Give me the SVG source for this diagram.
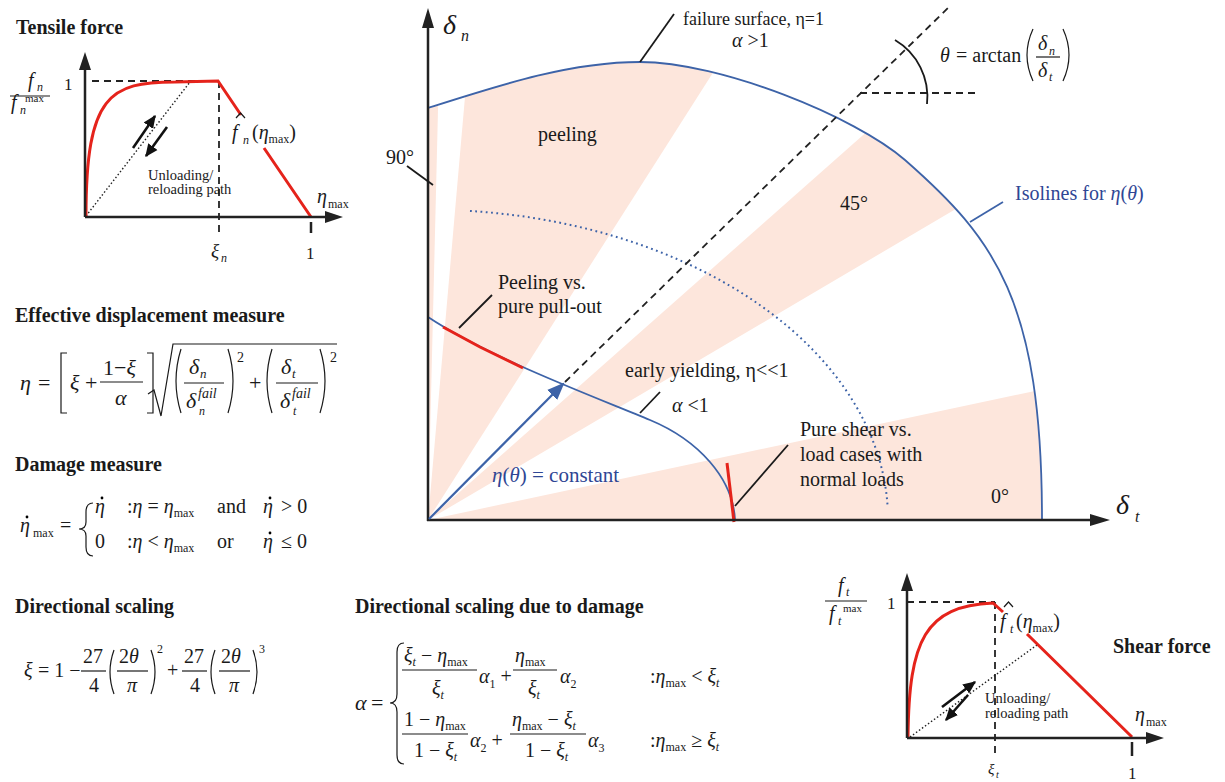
<svg xmlns="http://www.w3.org/2000/svg" width="1225" height="782" viewBox="0 0 1225 782" font-family="'Liberation Serif', 'DejaVu Serif', serif">
<style>
text{font-family:'Liberation Serif','DejaVu Serif',serif;fill:#1a1a1a}
.t{font-size:20px;font-weight:bold}
.i{font-style:italic}
.ax{stroke:#222;stroke-width:2.5;fill:none}
.ah{fill:#222}
.dash{stroke:#222;stroke-width:1.8;stroke-dasharray:7 5;fill:none}
.red{stroke:#e5231b;stroke-width:3;fill:none}
.dot{stroke:#222;stroke-width:1.4;stroke-dasharray:1.5 2.2;fill:none}
.ptr{stroke:#1a1a1a;stroke-width:1.8;fill:none}
.pink{fill:#fde6dc}
.blue{stroke:#3d63a8;stroke-width:1.8;fill:none}
.bdot{stroke:#3d63a8;stroke-width:2;stroke-dasharray:1.8 3.5;fill:none}
.m{stroke:#1a1a1a;stroke-width:1.2;fill:none}
.bt{fill:#2f4694}
.ua{stroke:#111;stroke-width:2.6;fill:none}
</style>
<defs>
<clipPath id="cl"><path d="M428,520 L428,108 C500,85 570,62 640,62 C720,62 855,116.5 905,160 C995,239 1042,300 1042,520 Z"/></clipPath>
<marker id="ba" markerWidth="8" markerHeight="8" refX="7" refY="4" orient="auto" markerUnits="strokeWidth"><path d="M0,0.8 L8,4 L0,7.2 Z" fill="#3d63a8"/></marker>
<marker id="ka" markerWidth="5" markerHeight="5" refX="4.5" refY="2.5" orient="auto" markerUnits="strokeWidth"><path d="M0,0.3 L5,2.5 L0,4.7 Z" fill="#111"/></marker>
</defs>

<!-- ===== Tensile force panel ===== -->
<g id="tensile">
<text class="t" x="16" y="34">Tensile force</text>
<path class="dot" d="M86,216 L190,82"/>
<path class="dash" d="M92,81 H219 M219,81 V232"/>
<path class="red" d="M86,216 C86,95 110,82 175,82 L218,81 L241,115 M264,148 L311,217"/>
<path class="ax" d="M85,217 V68 M85,217 H327"/>
<path class="ah" d="M85,52 L79,70 L91,70 Z M343,217 L325,211 L325,223 Z"/>
<path class="ax" d="M311,222 V233" stroke-width="1.5"/>
<path class="ua" marker-end="url(#ka)" d="M133,148 L155,116"/>
<path class="ua" marker-end="url(#ka)" d="M167,127 L146,156"/>
<text x="148" y="180" font-size="14.5">Unloading/</text>
<text x="148" y="194" font-size="14.5">reloading path</text>
<text class="i" x="28" y="87" font-size="20">f</text><text class="i" x="37" y="91" font-size="12">n</text>
<path class="m" d="M10,96 H50"/>
<text class="i" x="11" y="109" font-size="20">f</text><text class="i" x="20" y="114" font-size="12">n</text><text x="25" y="102" font-size="11">max</text>
<text x="64" y="90" font-size="17">1</text>
<text class="i" x="232" y="139" font-size="20">f</text><path class="m" d="M236,118 L240.5,113 L245,118"/>
<text x="243" y="144" font-size="12" class="i">n</text>
<text x="252" y="139" font-size="20">(<tspan class="i">η</tspan><tspan font-size="12" dy="4">max</tspan><tspan dy="-4">)</tspan></text>
<text class="i" x="317" y="203" font-size="20">η</text><text x="328" y="208" font-size="12">max</text>
<text class="i" x="211" y="257" font-size="19">ξ</text><text class="i" x="221" y="262" font-size="12">n</text>
<text x="306" y="259" font-size="17">1</text>
</g>

<!-- ===== Effective displacement measure ===== -->
<g id="eq-eta">
<text class="t" x="15" y="322">Effective displacement measure</text>
<text class="i" x="20" y="390" font-size="22">η</text>
<text x="38" y="390" font-size="22">=</text>
<path class="m" d="M67,353 H61 V413 H67 M147,353 H153 V413 H147"/>
<text class="i" x="70" y="390" font-size="22">ξ</text>
<text x="85" y="390" font-size="22">+</text>
<text x="103" y="375" font-size="22">1−<tspan class="i">ξ</tspan></text>
<path class="m" d="M100,382 H143"/>
<text class="i" x="115" y="405" font-size="22">α</text>
<path class="m" d="M148,394 L154,390 L161,416 L173,344 H337"/>
<path class="m" d="M181,349 Q171,381 181,413 M228,349 Q238,381 228,413 M272,349 Q262,381 272,413 M320,349 Q330,381 320,413"/>
<text class="i" x="189" y="374" font-size="22">δ</text><text class="i" x="200" y="378" font-size="13">n</text>
<path class="m" d="M184,383 H224"/>
<text class="i" x="186" y="408" font-size="22">δ</text><text class="i" x="198" y="398" font-size="14">fail</text><text class="i" x="199" y="415" font-size="12">n</text>
<text x="237" y="362" font-size="14">2</text>
<text x="249" y="390" font-size="22">+</text>
<text class="i" x="281" y="374" font-size="22">δ</text><text class="i" x="292" y="378" font-size="13">t</text>
<path class="m" d="M276,383 H318"/>
<text class="i" x="280" y="408" font-size="22">δ</text><text class="i" x="292" y="398" font-size="14">fail</text><text class="i" x="293" y="415" font-size="12">t</text>
<text x="330" y="362" font-size="14">2</text>
</g>

<!-- ===== Damage measure ===== -->
<g id="eq-damage">
<text class="t" x="15" y="471">Damage measure</text>
<text class="i" x="20" y="532" font-size="20">η</text><circle cx="27" cy="517" r="1.4"/>
<text x="33" y="537" font-size="12">max</text>
<text x="60" y="532" font-size="20">=</text>
<path class="m" d="M93,503 Q86,503 86,512 L86,522 Q86,529 79,529 Q86,529 86,536 L86,547 Q86,556 93,556"/>
<text class="i" x="95" y="513" font-size="20">η</text><circle cx="102" cy="498" r="1.4"/>
<text x="127" y="513" font-size="20">:<tspan class="i">η</tspan> = <tspan class="i">η</tspan><tspan font-size="12" dy="4">max</tspan></text>
<text x="217" y="513" font-size="20">and</text>
<text class="i" x="263" y="513" font-size="20">η</text><circle cx="270" cy="498" r="1.4"/>
<text x="281" y="513" font-size="20">&gt; 0</text>
<text x="95" y="548" font-size="20">0</text>
<text x="127" y="548" font-size="20">:<tspan class="i">η</tspan> &lt; <tspan class="i">η</tspan><tspan font-size="12" dy="4">max</tspan></text>
<text x="217" y="548" font-size="20">or</text>
<text class="i" x="263" y="548" font-size="20">η</text><circle cx="270" cy="533" r="1.4"/>
<text x="281" y="548" font-size="20">≤ 0</text>
</g>

<!-- ===== Directional scaling ===== -->
<g id="eq-xi">
<text class="t" x="15" y="613">Directional scaling</text>
<text class="i" x="24" y="677" font-size="20">ξ</text>
<text x="38" y="677" font-size="20">= 1 −</text>
<text x="83" y="663" font-size="20">27</text><path class="m" d="M81,671 H106"/><text x="89" y="692" font-size="20">4</text>
<path class="m" d="M114,650 Q106,672 114,694 M151,650 Q159,672 151,694"/>
<text x="119" y="663" font-size="20">2<tspan class="i">θ</tspan></text><path class="m" d="M117,671 H148"/><text class="i" x="127" y="692" font-size="20">π</text>
<text x="157" y="653" font-size="12">2</text>
<text x="167" y="677" font-size="20">+</text>
<text x="184" y="663" font-size="20">27</text><path class="m" d="M182,671 H207"/><text x="190" y="692" font-size="20">4</text>
<path class="m" d="M215,650 Q207,672 215,694 M253,650 Q261,672 253,694"/>
<text x="221" y="663" font-size="20">2<tspan class="i">θ</tspan></text><path class="m" d="M219,671 H250"/><text class="i" x="229" y="692" font-size="20">π</text>
<text x="259" y="653" font-size="12">3</text>
</g>

<!-- ===== Directional scaling due to damage ===== -->
<g id="eq-alpha">
<text class="t" x="355" y="613">Directional scaling due to damage</text>
<text class="i" x="355" y="710" font-size="22">α</text><text x="371" y="710" font-size="22">=</text>
<path class="m" d="M404,643 Q397,643 397,652 L397,694 Q397,703 390,703 Q397,703 397,712 L397,755 Q397,764 404,764"/>
<text x="404" y="662" font-size="20"><tspan class="i">ξ</tspan><tspan class="i" font-size="12" dy="4">t</tspan><tspan dy="-4"> − </tspan><tspan class="i">η</tspan><tspan font-size="12" dy="4">max</tspan></text>
<path class="m" d="M402,670 H477"/>
<text x="432" y="695" font-size="20"><tspan class="i">ξ</tspan><tspan class="i" font-size="12" dy="4">t</tspan></text>
<text x="479" y="683" font-size="20"><tspan class="i">α</tspan><tspan font-size="12" dy="5">1</tspan><tspan dy="-5"> +</tspan></text>
<text x="515" y="662" font-size="20"><tspan class="i">η</tspan><tspan font-size="12" dy="4">max</tspan></text>
<path class="m" d="M513,670 H557"/>
<text x="528" y="695" font-size="20"><tspan class="i">ξ</tspan><tspan class="i" font-size="12" dy="4">t</tspan></text>
<text x="560" y="683" font-size="20"><tspan class="i">α</tspan><tspan font-size="12" dy="5">2</tspan></text>
<text x="650" y="683" font-size="20">:<tspan class="i">η</tspan><tspan font-size="12" dy="4">max</tspan><tspan dy="-4"> &lt; </tspan><tspan class="i">ξ</tspan><tspan class="i" font-size="12" dy="4">t</tspan></text>
<text x="404" y="726" font-size="20">1 − <tspan class="i">η</tspan><tspan font-size="12" dy="4">max</tspan></text>
<path class="m" d="M402,734 H468"/>
<text x="414" y="757" font-size="20">1 − <tspan class="i">ξ</tspan><tspan class="i" font-size="12" dy="4">t</tspan></text>
<text x="470" y="747" font-size="20"><tspan class="i">α</tspan><tspan font-size="12" dy="5">2</tspan><tspan dy="-5"> +</tspan></text>
<text x="512" y="726" font-size="20"><tspan class="i">η</tspan><tspan font-size="12" dy="4">max</tspan><tspan dy="-4"> − </tspan><tspan class="i">ξ</tspan><tspan class="i" font-size="12" dy="4">t</tspan></text>
<path class="m" d="M510,734 H586"/>
<text x="525" y="757" font-size="20">1 − <tspan class="i">ξ</tspan><tspan class="i" font-size="12" dy="4">t</tspan></text>
<text x="588" y="747" font-size="20"><tspan class="i">α</tspan><tspan font-size="12" dy="5">3</tspan></text>
<text x="650" y="747" font-size="20">:<tspan class="i">η</tspan><tspan font-size="12" dy="4">max</tspan><tspan dy="-4"> ≥ </tspan><tspan class="i">ξ</tspan><tspan class="i" font-size="12" dy="4">t</tspan></text>
</g>

<!-- ===== Main plot ===== -->
<g id="sectors" clip-path="url(#cl)">
<path class="pink" d="M428,520 L447.5,-280 L428,-280 Z"/>
<path class="pink" d="M428,520 L497.7,-277 L857.8,-154.7 Z"/>
<path class="pink" d="M428,520 L1027,-10 L1117,114 Z"/>
<path class="pink" d="M428,520 L1210.5,353.7 L1228,520 Z"/>
</g>
<g id="isolines">
<path class="blue" d="M428,108 C500,85 570,62 640,62 C720,62 855,116.5 905,160 C995,239 1042,300 1042,520"/>
<path class="bdot" d="M470,211 A460,310 0 0 1 887.5,505"/>
<path class="blue" d="M428,317 C490,358 590,395 650,420 C698,440 733,478 735,520"/>
<path class="red" stroke-width="3.5" d="M443,327 L480,347 L523,368"/>
<path class="red" d="M727,463 L734,522"/>
</g>
<g id="main-axes">
<path class="ax" d="M428,521 V26 M427,520 H1092"/>
<path class="ah" d="M428,8 L422,28 L434,28 Z M1110,520 L1090,514 L1090,526 Z"/>
<text class="i" x="443" y="34" font-size="28">δ</text><text class="i" x="461" y="41" font-size="16">n</text>
<text class="i" x="1116" y="514" font-size="28">δ</text><text class="i" x="1135" y="522" font-size="16">t</text>
</g>
<g id="direction">
<path class="dash" d="M565,382 L948,8"/>
<path class="dash" d="M860,93 H976"/>
<path class="ptr" d="M895,40 A66,66 0 0 1 927,104"/>
<path stroke="#3d63a8" stroke-width="2.2" fill="none" marker-end="url(#ba)" d="M429,519 L563,384"/>
<text class="i" x="940" y="62" font-size="20">θ</text>
<text x="956" y="62" font-size="20">= arctan</text>
<path class="m" d="M1033,29 Q1021,55 1033,81 M1063,29 Q1075,55 1063,81"/>
<text class="i" x="1038" y="50" font-size="20">δ</text><text class="i" x="1049" y="55" font-size="12">n</text>
<path class="m" d="M1036,57 H1060"/>
<text class="i" x="1038" y="77" font-size="20">δ</text><text class="i" x="1049" y="81" font-size="12">t</text>
</g>
<g id="pointers">
<path class="ptr" d="M640,62 L674,14"/>
<path class="ptr" d="M407,166 L433,185"/>
<path class="ptr" d="M459,328 L492,295"/>
<path class="ptr" d="M640,413 L660,392"/>
<path class="ptr" d="M735,506 L788,445"/>
<path stroke="#3d63a8" stroke-width="1.8" fill="none" d="M970,222 L1003,202"/>
</g>
<g id="main-labels">
<text x="683" y="25" font-size="18">failure surface, η=1</text>
<text x="732" y="47" font-size="20"><tspan class="i">α</tspan> &gt;1</text>
<text x="538" y="141" font-size="20">peeling</text>
<text x="386" y="164" font-size="20">90°</text>
<text x="840" y="210" font-size="20">45°</text>
<text class="bt" x="1015" y="200" font-size="20">Isolines for <tspan class="i">η</tspan>(<tspan class="i">θ</tspan>)</text>
<text x="498" y="289" font-size="20">Peeling vs.</text>
<text x="498" y="313" font-size="20">pure pull-out</text>
<text x="625" y="377" font-size="20">early yielding, η&lt;&lt;1</text>
<text x="672" y="412" font-size="20"><tspan class="i">α</tspan> &lt;1</text>
<text class="bt" x="492" y="482" font-size="21"><tspan class="i">η</tspan>(<tspan class="i">θ</tspan>) = constant</text>
<text x="800" y="436" font-size="20">Pure shear vs.</text>
<text x="800" y="461" font-size="20">load cases with</text>
<text x="800" y="486" font-size="20">normal loads</text>
<text x="991" y="503" font-size="20">0°</text>
</g>

<!-- ===== Shear force panel ===== -->
<g id="shear">
<path class="dot" d="M910,737 L1037,645"/>
<path class="dash" d="M907,602 H995 M995,602 V756"/>
<path class="red" d="M908,737 C909,640 925,606 993,603 L1003,612 M1027,634 L1132,737"/>
<path class="ax" d="M907,738 V590 M907,738 H1147"/>
<path class="ah" d="M907,573 L901,591 L913,591 Z M1164,738 L1146,732 L1146,744 Z"/>
<path class="ax" d="M1132,742 V756" stroke-width="1.5"/>
<path class="ua" marker-end="url(#ka)" d="M942,707 L975,682"/>
<path class="ua" marker-end="url(#ka)" d="M968,695 L946,720"/>
<text x="985" y="703" font-size="14.5">Unloading/</text>
<text x="985" y="718" font-size="14.5">reloading path</text>
<text class="i" x="838" y="592" font-size="20">f</text><text class="i" x="846" y="596" font-size="12">t</text>
<path class="m" d="M825,601 H867"/>
<text class="i" x="829" y="620" font-size="20">f</text><text class="i" x="838" y="625" font-size="12">t</text><text x="843" y="612" font-size="11">max</text>
<text x="887" y="609" font-size="17">1</text>
<text class="i" x="1000" y="628" font-size="20">f</text><path class="m" d="M1004,607 L1008.5,602 L1013,607"/>
<text x="1010" y="633" font-size="12" class="i">t</text>
<text x="1016" y="628" font-size="20">(<tspan class="i">η</tspan><tspan font-size="12" dy="4">max</tspan><tspan dy="-4">)</tspan></text>
<text class="t" x="1113" y="653">Shear force</text>
<text class="i" x="1135" y="721" font-size="20">η</text><text x="1146" y="726" font-size="12">max</text>
<text class="i" x="988" y="774" font-size="15">ξ</text><text class="i" x="996" y="778" font-size="10">t</text>
<text x="1128" y="779" font-size="17">1</text>
</g>
</svg>
